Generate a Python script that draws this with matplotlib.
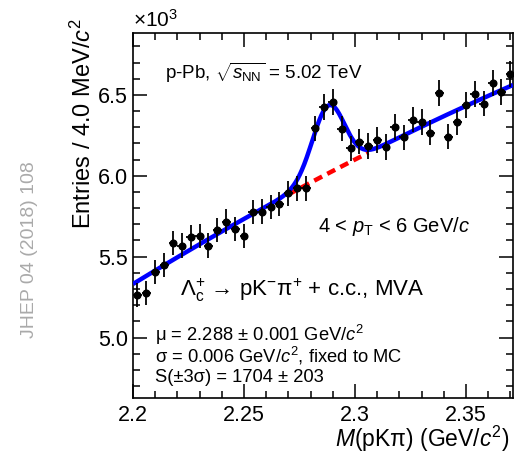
import numpy as np
import matplotlib
matplotlib.use("Agg")
import matplotlib.pyplot as plt
from matplotlib.ticker import MultipleLocator, FormatStrFormatter

plt.rcParams['font.family'] = ['Liberation Sans', 'DejaVu Sans']
plt.rcParams['mathtext.fontset'] = 'custom'
plt.rcParams['mathtext.rm'] = 'Liberation Sans'
plt.rcParams['mathtext.it'] = 'Liberation Sans:italic'
plt.rcParams['mathtext.bf'] = 'Liberation Sans:bold'

# ---- data (entries in units of 10^3) ----
mass_first_bin = 2.202
bin_width = 0.004
entries = [5.263, 5.274, 5.405, 5.446, 5.583, 5.569, 5.622, 5.629, 5.569, 5.665,
           5.716, 5.670, 5.629, 5.776, 5.778, 5.806, 5.826, 5.892, 5.922, 5.922,
           6.293, 6.428, 6.459, 6.292, 6.170, 6.211, 6.185, 6.220, 6.177, 6.302,
           6.237, 6.348, 6.332, 6.267, 6.511, 6.242, 6.330, 6.436, 6.507, 6.447,
           6.572, 6.520, 6.629]
errors = [0.073, 0.073, 0.074, 0.074, 0.075, 0.075, 0.075, 0.075, 0.075, 0.075,
          0.076, 0.075, 0.075, 0.076, 0.076, 0.076, 0.076, 0.077, 0.077, 0.077,
          0.079, 0.080, 0.080, 0.079, 0.079, 0.079, 0.079, 0.079, 0.079, 0.079,
          0.079, 0.080, 0.080, 0.079, 0.081, 0.079, 0.080, 0.080, 0.081, 0.080,
          0.081, 0.081, 0.081]
mass = mass_first_bin + bin_width * np.arange(len(entries))

# fit parameters (as drawn)
bkg_p0, bkg_p1, bkg_p2 = 5.331, 8.405, -7.1   # around x0 = 2.2
bkg_x0 = 2.2
sig_amp, sig_mu, sig_sigma = 0.419, 2.288, 0.0072
sig_region = (2.270, 2.306)

xlim = (2.2, 2.3712)
ylim = (4.626, 6.885)


def bkg(x):
    t = x - bkg_x0
    return bkg_p0 + bkg_p1 * t + bkg_p2 * t ** 2


def total(x):
    return bkg(x) + sig_amp * np.exp(-0.5 * ((x - sig_mu) / sig_sigma) ** 2)


fig = plt.figure(figsize=(5.18, 4.54), dpi=100)
ax = fig.add_axes([133 / 518, 1 - 398 / 454, (513 - 133) / 518, (398 - 32.7) / 454])

xf = np.linspace(xlim[0], xlim[1], 600)
ax.plot(xf, total(xf), color='#0000ff', lw=3.2, zorder=3, solid_capstyle='butt')
xr = np.linspace(sig_region[0], sig_region[1], 100)
ax.plot(xr, bkg(xr), color='#ff0000', lw=3.2, ls=(0, (2.0, 1.3)), zorder=2)

ax.errorbar(mass, entries, yerr=errors, xerr=bin_width / 2, fmt='o', color='black',
            ms=4.8, elinewidth=1.3, capsize=0, zorder=4)

ax.set_xlim(*xlim)
ax.set_ylim(*ylim)
ax.xaxis.set_major_locator(MultipleLocator(0.05))
ax.xaxis.set_minor_locator(MultipleLocator(0.01))
ax.yaxis.set_major_locator(MultipleLocator(0.5))
ax.yaxis.set_minor_locator(MultipleLocator(0.1))
ax.yaxis.set_major_formatter(FormatStrFormatter('%.1f'))
ax.xaxis.set_major_formatter(matplotlib.ticker.FuncFormatter(lambda v, p: ('%.3f' % v).rstrip('0').rstrip('.')))
ax.tick_params(which='both', direction='in', top=True, right=True, labelsize=15.5, width=1.1)
ax.tick_params(which='major', length=10)
ax.tick_params(which='minor', length=5)
ax.tick_params(axis='x', pad=5)
for s in ax.spines.values():
    s.set_linewidth(1.2)

fig.text(133 / 518, 1 - 20 / 454, r'×10$^{3}$', fontsize=15, ha='left', va='center')
fig.text(83 / 518, 1 - 18 / 454, r'Entries / 4.0 MeV/$c^{2}$', fontsize=17, rotation=90,
         ha='center', va='top')
fig.text(509 / 518, 1 - 447 / 454, r'$M$(pKπ) (GeV/$c^{2}$)', fontsize=16.5, ha='right', va='baseline')
fig.text(30 / 518, 1 - 250 / 454, 'JHEP 04 (2018) 108', fontsize=14, rotation=90,
         color='#aaaaaa', ha='center', va='center')

ax.text(165 / 518, 1 - 73 / 454, r'p-Pb, $\sqrt{s_{\rm NN}}$ = 5.02 TeV', fontsize=13.5,
        transform=fig.transFigure, ha='left', va='center')
ax.text(318 / 518, 1 - 226 / 454, r'4 < $p_{\rm T}$ < 6 GeV/$c$', fontsize=14.5,
        transform=fig.transFigure, ha='left', va='center')
ax.text(180 / 518, 1 - 290 / 454, r'$\Lambda_{\rm c}^{+}$ → pK$^{-}$π$^{+}$ + c.c., MVA', fontsize=16,
        transform=fig.transFigure, ha='left', va='center')
ax.text(155 / 518, 1 - 335 / 454, r'μ = 2.288 ± 0.001 GeV/$c^{2}$', fontsize=13.2,
        transform=fig.transFigure, ha='left', va='center')
ax.text(155 / 518, 1 - 356 / 454, r'σ = 0.006 GeV/$c^{2}$, fixed to MC', fontsize=13.2,
        transform=fig.transFigure, ha='left', va='center')
ax.text(155 / 518, 1 - 377 / 454, r'S(±3σ) = 1704 ± 203', fontsize=13.2,
        transform=fig.transFigure, ha='left', va='center')

fig.savefig('out.png', dpi=100)
